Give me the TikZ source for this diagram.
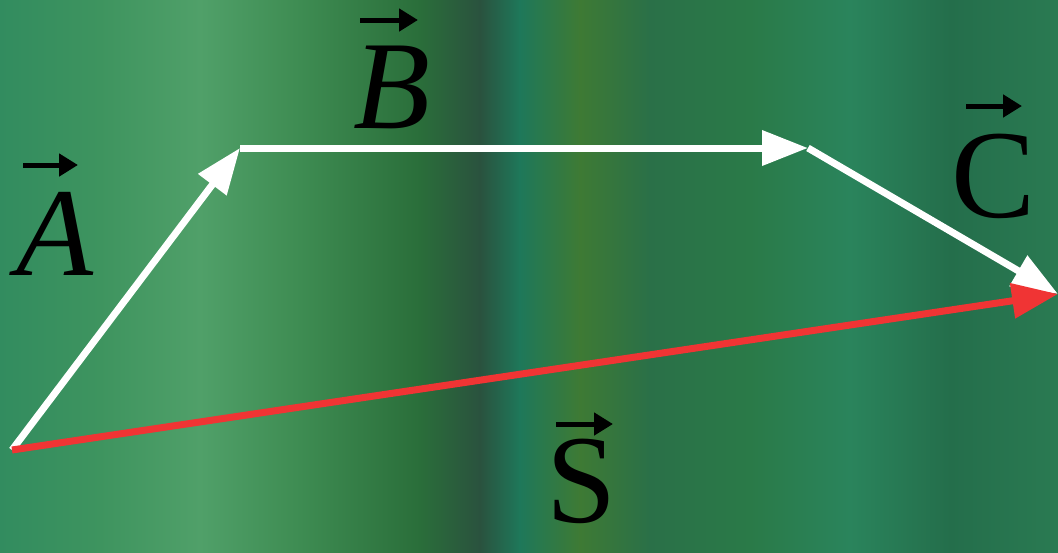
\documentclass[tikz,border=0pt]{standalone}
\usepackage{fontspec}
\setmainfont{Liberation Serif}
\usetikzlibrary{arrows.meta}
\definecolor{g0}{RGB}{50,140,95}
\definecolor{g1}{RGB}{62,148,95}
\definecolor{g2}{RGB}{80,160,105}
\definecolor{g3}{RGB}{62,140,82}
\definecolor{g4}{RGB}{42,110,58}
\definecolor{g5}{RGB}{42,82,62}
\definecolor{g6}{RGB}{30,120,90}
\definecolor{g7}{RGB}{62,122,52}
\definecolor{g8}{RGB}{42,112,72}
\definecolor{g9}{RGB}{42,122,72}
\definecolor{g10}{RGB}{42,132,92}
\definecolor{g11}{RGB}{36,110,75}
\definecolor{g12}{RGB}{42,122,82}
\definecolor{vred}{RGB}{240,52,52}
\tikzset{
  vec/.style={line width=7pt,-{Triangle[length=46pt,width=34pt]}},
  lbl/.style={inner sep=0pt,anchor=base,font=\fontsize{126}{130}\selectfont},
  ovarrow/.style={line width=5pt,-{Triangle[length=19pt,width=22pt]}}
}
\begin{document}
\begin{tikzpicture}[x=1pt,y=-1pt]
\useasboundingbox (0,0) rectangle (1058,552);
\foreach \xa/\xb/\ca/\cb in {0/100/g0/g1,100/200/g1/g2,200/300/g2/g3,300/420/g3/g4,420/480/g4/g5,480/520/g5/g6,520/580/g6/g7,580/650/g7/g8,650/750/g8/g9,750/850/g9/g10,850/950/g10/g11,950/1058/g11/g12}
  \shade[left color=\ca,right color=\cb] (\xa-0.5,0) rectangle (\xb+0.5,552);
\coordinate (O) at (12,450);
\coordinate (P) at (240,148);
\coordinate (Q) at (808,148);
\coordinate (R) at (1058,294);
\draw[vec,white] (O) -- (P);
\draw[vec,white] (P) -- (Q);
\draw[vec,white] (Q) -- (R);
\draw[vec,vred] (O) -- (R);
\node[lbl] (la) at (55,275) {\itshape A};
\node[lbl] (lb) at (392,128) {\itshape B};
\node[lbl] (lc) at (994,217) {C};
\node[lbl] (ls) at (582,522) {S};
\draw[ovarrow] ([xshift=-32pt,yshift=110pt]la.base) -- ++(55,0);
\draw[ovarrow] ([xshift=-32pt,yshift=108pt]lb.base) -- ++(58,0);
\draw[ovarrow] ([xshift=-28pt,yshift=111pt]lc.base) -- ++(56,0);
\draw[ovarrow] ([xshift=-26pt,yshift=98pt]ls.base) -- ++(57,0);
\end{tikzpicture}
\end{document}
